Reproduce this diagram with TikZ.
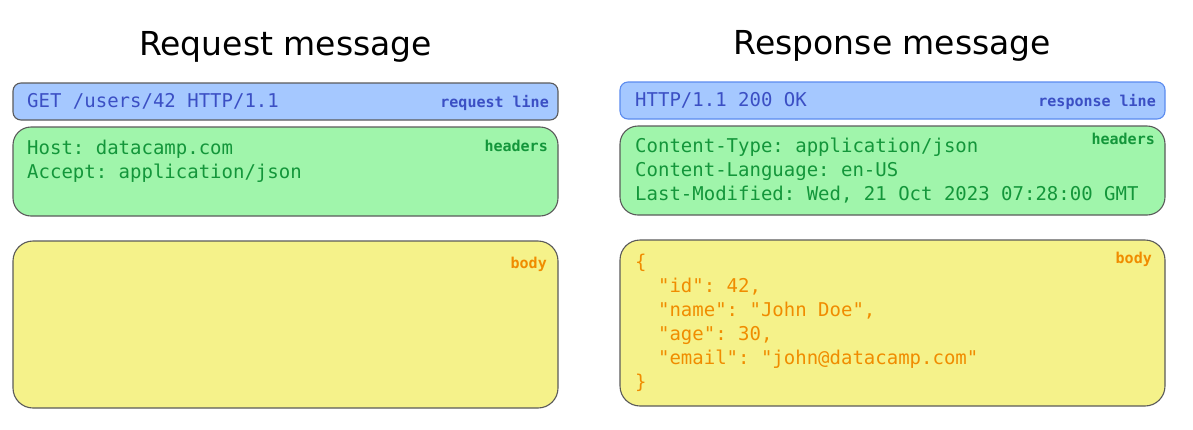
\documentclass[tikz,border=0pt]{standalone}
\usepackage{fontspec}
\setmainfont{DejaVu Sans}
\setmonofont{DejaVu Sans Mono}
\usepackage{tikz}
\usetikzlibrary{positioning,calc}

\definecolor{lineFill}{HTML}{A5C8FF}
\definecolor{lineText}{HTML}{3B4FC4}
\definecolor{lineEdge}{HTML}{5B8BEF}
\definecolor{headFill}{HTML}{A0F5AB}
\definecolor{headText}{HTML}{13963A}
\definecolor{bodyFill}{HTML}{F5F28A}
\definecolor{bodyText}{HTML}{F08C00}
\definecolor{boxEdge}{HTML}{5A5A5A}

\begin{document}
\begin{tikzpicture}[
    x=1pt, y=-1pt,
    node distance=7pt,
    box/.style={draw=boxEdge, line width=1.1pt, rectangle, inner sep=0pt, outer sep=0pt, minimum width=545pt},
    line_box/.style={box, fill=lineFill, rounded corners=8pt, minimum height=37pt},
    head_box/.style={box, fill=headFill, rounded corners=18pt, minimum height=89pt},
    body_box/.style={box, fill=bodyFill, rounded corners=20pt, minimum height=167pt},
    code/.style={font=\ttfamily\fontsize{19}{24}\selectfont, align=left, inner sep=0pt},
    tag/.style={font=\ttfamily\bfseries\fontsize{15}{17}\selectfont, inner sep=0pt},
    title/.style={font=\fontsize{33}{36}\selectfont, inner sep=0pt}
]
\useasboundingbox (0,0) rectangle (1193,429);

% --- NODES ---

% Request message (left)
\node[line_box, anchor=north west] (req_line) at (13,83) {};
\node[head_box, below=of req_line] (req_head) {};
\node[body_box, below=25pt of req_head] (req_body) {};
\node[title, above=20pt of req_line] (req_title) {Request message};

% Response message (right)
\node[line_box, draw=lineEdge, anchor=north west] (res_line) at (620,82) {};
\node[head_box, below=of res_line] (res_head) {};
\node[body_box, below=25pt of res_head, minimum height=166pt] (res_body) {};
\node[title, above=20pt of res_line] (res_title) {Response message};

% --- TEXTS ---

% Request line + headers
\node[code, text=lineText, anchor=west] (req_line_txt) at ([xshift=14pt]req_line.west) {GET /users/42 HTTP/1.1};
\node[code, text=headText, anchor=north west] (req_head_txt) at ($(req_head.north west)+(14,13)$) {Host: datacamp.com\\Accept: application/json};

% Response line + headers + body
\node[code, text=lineText, anchor=west] (res_line_txt) at ([xshift=15pt]res_line.west) {HTTP/1.1 200 OK};
\node[code, text=headText, anchor=north west] (res_head_txt) at ($(res_head.north west)+(15,12)$) {Content-Type: application/json\\Content-Language: en-US\\Last-Modified: Wed, 21 Oct 2023 07:28:00 GMT};
\node[code, text=bodyText, anchor=north west] (res_body_txt) at ($(res_body.north west)+(15,14)$) {\{\\
\ \ "id": 42,\\
\ \ "name": "John Doe",\\
\ \ "age": 30,\\
\ \ "email": "john@datacamp.com"\\
\}};

% --- TAGS ---
\node[tag, text=lineText, anchor=east] (req_line_tag) at ([xshift=-9pt,yshift=-1pt]req_line.east) {request line};
\node[tag, text=headText, anchor=east] (req_head_tag) at ($(req_head.north east)+(-10,19)$) {headers};
\node[tag, text=bodyText, anchor=east] (req_body_tag) at ($(req_body.north east)+(-11,23)$) {body};

\node[tag, text=lineText, anchor=east] (res_line_tag) at ([xshift=-9pt,yshift=-1pt]res_line.east) {response line};
\node[tag, text=headText, anchor=east] (res_head_tag) at ($(res_head.north east)+(-10,13)$) {headers};
\node[tag, text=bodyText, anchor=east] (res_body_tag) at ($(res_body.north east)+(-13,19)$) {body};

\end{tikzpicture}
\end{document}
